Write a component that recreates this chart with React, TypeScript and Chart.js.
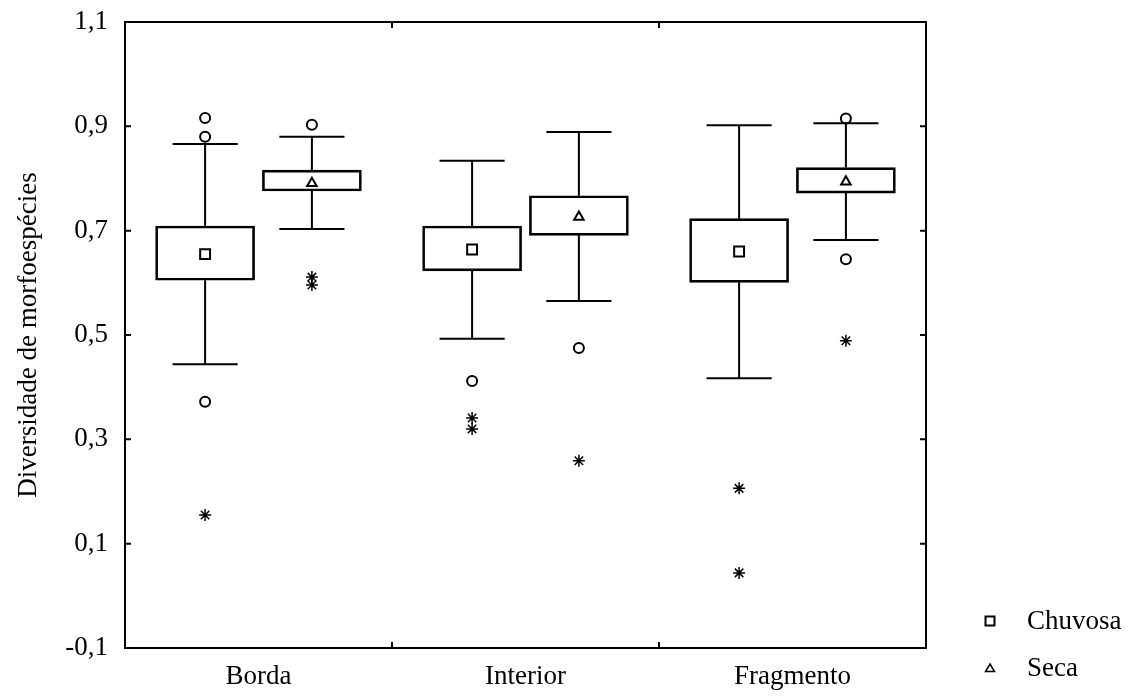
import React, { useEffect, useRef } from 'react';
import { Chart, registerables } from 'chart.js';

Chart.register(...registerables);

const categories = ['Borda', 'Interior', 'Fragmento'];
const seriesNames = ['Chuvosa', 'Seca'];
const yTickValues = [-0.1, 0.1, 0.3, 0.5, 0.7, 0.9, 1.1];

// Chuvosa
const chuvosaWhiskerHigh = [0.866, 0.834, 0.902];
const chuvosaQ3 = [0.709, 0.709, 0.723];
const chuvosaMean = [0.655, 0.664, 0.66];
const chuvosaQ1 = [0.605, 0.623, 0.601];
const chuvosaWhiskerLow = [0.444, 0.493, 0.417];
const chuvosaOutliers = [[0.916, 0.88, 0.372], [0.412], []];
const chuvosaExtremes = [[0.155], [0.341, 0.32], [0.206, 0.044]];

// Seca
const secaWhiskerHigh = [0.88, 0.889, 0.906];
const secaQ3 = [0.816, 0.767, 0.821];
const secaMean = [0.791, 0.726, 0.794];
const secaQ1 = [0.776, 0.691, 0.772];
const secaWhiskerLow = [0.703, 0.565, 0.682];
const secaOutliers = [[0.903], [0.475], [0.915, 0.645]];
const secaExtremes = [[0.611, 0.596], [0.259], [0.489]];

const FONT = '"Liberation Serif", "Times New Roman", serif';
const FONT_SIZE = 27;
const groupOffset = [-0.2, 0.2];
const capHalf = 0.122;

const series = [
  { name: seriesNames[0], high: chuvosaWhiskerHigh, q3: chuvosaQ3, mean: chuvosaMean, q1: chuvosaQ1, low: chuvosaWhiskerLow, out: chuvosaOutliers, ext: chuvosaExtremes, meanStyle: 'rect', meanRadius: 7 },
  { name: seriesNames[1], high: secaWhiskerHigh, q3: secaQ3, mean: secaMean, q1: secaQ1, low: secaWhiskerLow, out: secaOutliers, ext: secaExtremes, meanStyle: 'triangle', meanRadius: 5.5 },
];

const xPos = (i: number, s: number) => i + 0.5 + groupOffset[s];

const framePlugin = {
  id: 'frameAndWhiskers',
  beforeDatasetsDraw(chart: any) {
    const { ctx } = chart;
    const xs = chart.scales.x;
    const ys = chart.scales.y;
    ctx.save();
    ctx.strokeStyle = '#000';
    ctx.lineWidth = 2;
    series.forEach((sr, s) => {
      categories.forEach((_, i) => {
        const xv = xPos(i, s);
        const xp = xs.getPixelForValue(xv);
        const xl = xs.getPixelForValue(xv - capHalf);
        const xr = xs.getPixelForValue(xv + capHalf);
        const yh = ys.getPixelForValue(sr.high[i]);
        const y3 = ys.getPixelForValue(sr.q3[i]);
        const y1 = ys.getPixelForValue(sr.q1[i]);
        const yl = ys.getPixelForValue(sr.low[i]);
        ctx.beginPath();
        ctx.moveTo(xp, yh); ctx.lineTo(xp, y3);
        ctx.moveTo(xp, y1); ctx.lineTo(xp, yl);
        ctx.moveTo(xl, yh); ctx.lineTo(xr, yh);
        ctx.moveTo(xl, yl); ctx.lineTo(xr, yl);
        ctx.stroke();
      });
    });
    ctx.restore();
  },
  afterDraw(chart: any) {
    const { ctx, chartArea: a } = chart;
    const xs = chart.scales.x;
    const ys = chart.scales.y;
    ctx.save();
    ctx.strokeStyle = '#000';
    ctx.lineWidth = 2;
    ctx.strokeRect(a.left, a.top, a.right - a.left, a.bottom - a.top);
    const tl = 6;
    ctx.beginPath();
    yTickValues.forEach((v) => {
      const y = ys.getPixelForValue(v);
      ctx.moveTo(a.left, y); ctx.lineTo(a.left + tl, y);
      ctx.moveTo(a.right, y); ctx.lineTo(a.right - tl, y);
    });
    for (let i = 1; i < categories.length; i++) {
      const x = xs.getPixelForValue(i);
      ctx.moveTo(x, a.bottom); ctx.lineTo(x, a.bottom - tl);
      ctx.moveTo(x, a.top); ctx.lineTo(x, a.top + tl);
    }
    ctx.stroke();

    // legend
    const lx = a.right + 64;
    const ly = [a.bottom - 27, a.bottom + 20];
    ctx.lineWidth = 2;
    ctx.strokeRect(lx - 4.5, ly[0] - 4.5, 9, 9);
    ctx.beginPath();
    ctx.moveTo(lx - 4.5, ly[1] + 3.5);
    ctx.lineTo(lx + 4.5, ly[1] + 3.5);
    ctx.lineTo(lx, ly[1] - 4);
    ctx.closePath();
    ctx.lineWidth = 1.5;
    ctx.stroke();
    ctx.fillStyle = '#000';
    ctx.font = FONT_SIZE + 'px ' + FONT;
    ctx.textBaseline = 'middle';
    ctx.textAlign = 'left';
    seriesNames.forEach((n, k) => ctx.fillText(n, lx + 37, ly[k] + 1));
    ctx.restore();
  },
};

export default function App() {
  const ref = useRef<HTMLCanvasElement | null>(null);
  useEffect(() => {
    document.body.style.margin = '0';
    document.body.style.overflow = 'hidden';
    if (!ref.current) return;

    const datasets: any[] = [];
    series.forEach((sr, s) => {
      datasets.push({
        type: 'bar',
        label: sr.name + ' box',
        data: categories.map((_, i) => ({ x: xPos(i, s), y: [sr.q1[i], sr.q3[i]] })),
        backgroundColor: 'rgba(255,255,255,0)',
        borderColor: '#000',
        borderWidth: 2,
        borderSkipped: false,
        barThickness: 99,
        grouped: false,
        order: 3,
      });
    });
    series.forEach((sr, s) => {
      datasets.push({
        type: 'scatter',
        label: sr.name + ' mean',
        data: categories.map((_, i) => ({ x: xPos(i, s), y: sr.mean[i] })),
        pointStyle: sr.meanStyle,
        pointRadius: sr.meanRadius,
        borderColor: '#000',
        backgroundColor: 'rgba(255,255,255,0)',
        borderWidth: 2,
        order: 1,
      });
      datasets.push({
        type: 'scatter',
        label: sr.name + ' outliers',
        data: categories.flatMap((_, i) => sr.out[i].map((v) => ({ x: xPos(i, s), y: v }))),
        pointStyle: 'circle',
        pointRadius: 5,
        borderColor: '#000',
        backgroundColor: 'rgba(255,255,255,0)',
        borderWidth: 2,
        order: 1,
      });
      datasets.push({
        type: 'scatter',
        label: sr.name + ' extremes',
        data: categories.flatMap((_, i) => sr.ext[i].map((v) => ({ x: xPos(i, s), y: v }))),
        pointStyle: 'star',
        pointRadius: 6,
        borderColor: '#000',
        backgroundColor: '#000',
        borderWidth: 1.5,
        order: 1,
      });
    });

    const chart = new Chart(ref.current, {
      type: 'bar',
      data: { datasets },
      options: {
        responsive: false,
        animation: false,
        layout: { padding: { top: 22, right: 211, bottom: 0, left: 0 } },
        plugins: { legend: { display: false }, tooltip: { enabled: false } },
        scales: {
          x: {
            type: 'linear',
            min: 0,
            max: categories.length,
            offset: false,
            grid: { display: false, drawTicks: false },
            border: { display: false },
            afterFit: (scale: any) => {
              scale.height = 50;
              scale.paddingLeft = 0;
              scale.paddingRight = 0;
            },
            afterBuildTicks: (scale: any) => {
              scale.ticks = categories.map((_, i) => ({ value: i + 0.5 }));
            },
            ticks: {
              autoSkip: false,
              maxRotation: 0,
              padding: 13,
              color: '#000',
              font: { family: FONT, size: FONT_SIZE },
              callback: (v: any) => categories[Math.round(Number(v) - 0.5)],
            },
          },
          y: {
            type: 'linear',
            min: -0.1,
            max: 1.1,
            grid: { display: false, drawTicks: false },
            border: { display: false },
            afterFit: (scale: any) => {
              scale.width = 125;
              scale.paddingTop = 0;
              scale.paddingBottom = 0;
            },
            afterBuildTicks: (scale: any) => {
              scale.ticks = yTickValues.map((v) => ({ value: v }));
            },
            ticks: {
              padding: 17,
              color: '#000',
              font: { family: FONT, size: FONT_SIZE },
              callback: (v: any) => Number(v).toFixed(1).replace('.', ','),
            },
            title: {
              display: true,
              text: 'Diversidade de morfoespécies',
              color: '#000',
              font: { family: FONT, size: FONT_SIZE },
              padding: { top: 13, bottom: 0 },
            },
          },
        },
      },
      plugins: [framePlugin],
    } as any);
    return () => chart.destroy();
  }, []);

  return (
    <div style={{ width: 1137, height: 698, background: '#fff' }}>
      <canvas ref={ref} width={1137} height={698} style={{ display: 'block' }} />
    </div>
  );
}
